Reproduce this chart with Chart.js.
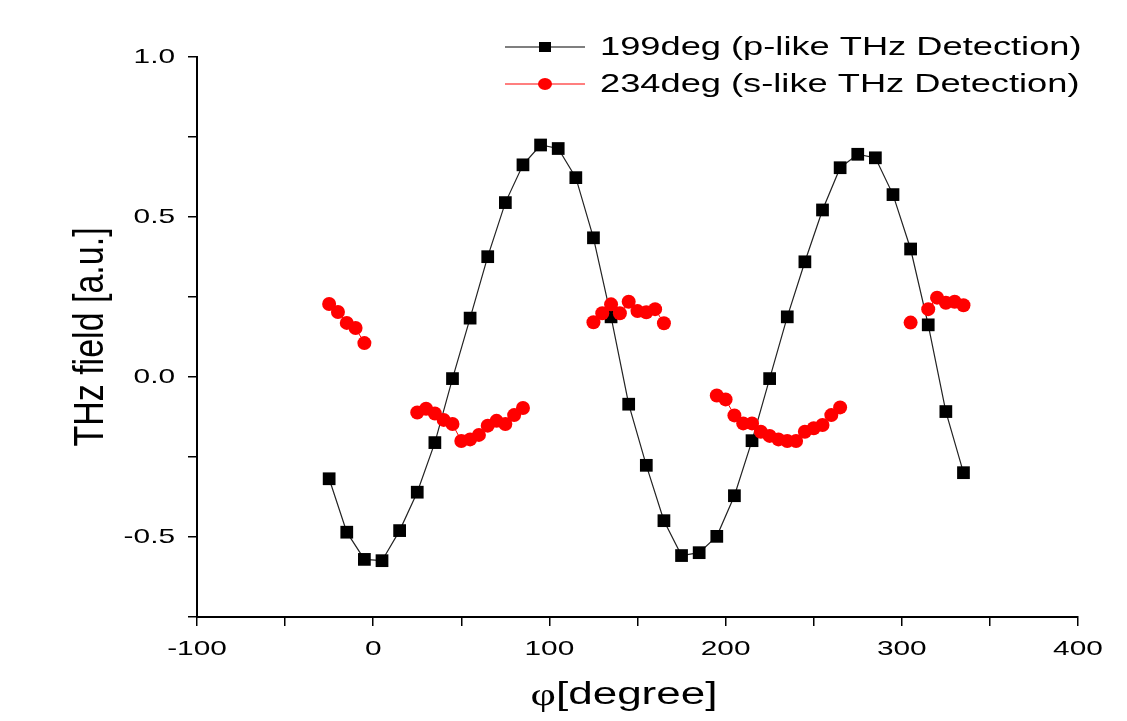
<!DOCTYPE html>
<html>
<head>
<meta charset="utf-8">
<script src="https://cdn.jsdelivr.net/npm/chart.js@4"></script>
<style>
  html, body { margin: 0; padding: 0; background: #fff; }
  #wrap { width: 1127px; height: 721px; }
</style>
</head>
<body>
<div id="wrap"><canvas id="chart"></canvas></div>
<script>
// p-like detection (199deg), every 10 degrees
const pAngles = [-25, -15, -5, 5, 15, 25, 35, 45, 55, 65, 75, 85, 95, 105, 115, 125, 135, 145, 155,
    165, 175, 185, 195, 205, 215, 225, 235, 245, 255, 265, 275, 285, 295, 305, 315, 325, 335];
const pField = [-0.318, -0.485, -0.57, -0.574, -0.48, -0.36, -0.205, -0.005, 0.184, 0.376, 0.545,
    0.663, 0.725, 0.714, 0.623, 0.435, 0.188, -0.085, -0.276, -0.449, -0.558, -0.549, -0.498,
    -0.371, -0.199, -0.005, 0.188, 0.36, 0.522, 0.654, 0.696, 0.685, 0.57, 0.40, 0.163, -0.108, -0.299];

// s-like detection (234deg), every 5 degrees, with gaps (null)
const sAngles = [-25, -20, -15, -10, -5, 0,
    25, 30, 35, 40, 45, 50, 55, 60, 65, 70, 75, 80, 85, 90,
    125, 130, 135, 140, 145, 150, 155, 160, 165, 170,
    195, 200, 205, 210, 215, 220, 225, 230, 235, 240, 245, 250, 255, 260, 265, 270,
    305, 310, 315, 320, 325, 330, 335];
const sField = [0.228, 0.203, 0.169, 0.153, 0.106, null,
    -0.111, -0.099, -0.114, -0.134, -0.147, -0.2, -0.195, -0.181, -0.152, -0.137, -0.147, -0.119, -0.097, null,
    0.171, 0.199, 0.227, 0.199, 0.235, 0.206, 0.202, 0.212, 0.168, null,
    -0.058, -0.07, -0.12, -0.145, -0.145, -0.171, -0.184, -0.195, -0.2, -0.2, -0.171, -0.16, -0.15, -0.119, -0.095, null,
    0.17, null, 0.212, 0.248, 0.232, 0.235, 0.224];

const xTickLabels = [-100, 0, 100, 200, 300, 400];
const yTickLabels = [-0.5, 0.0, 0.5, 1.0];

const seriesNames = ['199deg (p-like THz Detection)', '234deg (s-like THz Detection)'];
const xTitleSymbol = 'φ';
const xTitle = '[degree]';
const yTitle = 'THz field [a.u.]';

const FONT = '"Liberation Sans", Arial, sans-serif';
const SERIF = '"Liberation Serif", "Times New Roman", serif';
// the original picture is stretched sideways, text too
const STRETCH = 1.42;

function toPoints(xs, ys) {
    return xs.map((x, i) => ({ x: x, y: ys[i] }));
}

function wideText(ctx, text, x, y, align, font, sx) {
    ctx.save();
    ctx.translate(x, y);
    ctx.scale(sx, 1);
    ctx.font = font;
    ctx.textAlign = align;
    ctx.textBaseline = 'middle';
    ctx.fillText(text, 0, 0);
    ctx.restore();
}

// tick labels, axis titles and legend, drawn with the same stretch as the original
const textPlugin = {
    id: 'originText',
    afterDraw(chart) {
        const ctx = chart.ctx;
        const xs = chart.scales.x;
        const ys = chart.scales.y;
        ctx.save();
        ctx.fillStyle = '#000';

        xTickLabels.forEach(v => {
            wideText(ctx, String(v), xs.getPixelForValue(v), 649, 'center', '21px ' + FONT, STRETCH);
        });
        yTickLabels.forEach(v => {
            wideText(ctx, v.toFixed(1), 175, ys.getPixelForValue(v), 'right', '21px ' + FONT, STRETCH);
        });

        // x title: serif phi followed by the rest
        ctx.font = '31px ' + SERIF;
        const wPhi = ctx.measureText(xTitleSymbol).width * STRETCH;
        ctx.font = '31px ' + FONT;
        const wRest = ctx.measureText(xTitle).width * STRETCH;
        const x0 = 624 - (wPhi + wRest) / 2;
        wideText(ctx, xTitleSymbol, x0, 697, 'left', '31px ' + SERIF, STRETCH);
        wideText(ctx, xTitle, x0 + wPhi, 695, 'left', '31px ' + FONT, STRETCH);

        ctx.save();
        ctx.translate(91, (ys.top + ys.bottom) / 2);
        ctx.rotate(-Math.PI / 2);
        ctx.scale(1, 1.25);
        ctx.font = '34px ' + FONT;
        ctx.textAlign = 'center';
        ctx.textBaseline = 'middle';
        ctx.fillText(yTitle, 0, 0);
        ctx.restore();

        const rows = [
            { y: 47, color: '#000', style: 'rect', text: seriesNames[0] },
            { y: 84, color: '#f00', style: 'circle', text: seriesNames[1] }
        ];
        rows.forEach(r => {
            ctx.strokeStyle = r.color;
            ctx.lineWidth = 1.2;
            ctx.beginPath();
            ctx.moveTo(505, r.y);
            ctx.lineTo(585, r.y);
            ctx.stroke();
            ctx.fillStyle = r.color;
            if (r.style === 'rect') {
                ctx.fillRect(539, r.y - 5, 12, 10);
            } else {
                ctx.beginPath();
                ctx.ellipse(545, r.y, 7, 6, 0, 0, Math.PI * 2);
                ctx.fill();
            }
            ctx.fillStyle = '#000';
            wideText(ctx, r.text, 600, r.y + 1, 'left', '25px ' + FONT, 1.45);
        });
        ctx.restore();
    }
};

const config = {
    type: 'scatter',
    data: {
        datasets: [
            {
                label: seriesNames[0],
                data: toPoints(pAngles, pField),
                showLine: true,
                borderColor: '#222',
                backgroundColor: '#000',
                borderWidth: 1.2,
                pointStyle: 'rect',
                pointRadius: 9,
                pointBorderWidth: 0,
                order: 2
            },
            {
                label: seriesNames[1],
                data: toPoints(sAngles, sField),
                showLine: true,
                spanGaps: false,
                borderColor: '#f00',
                backgroundColor: '#f00',
                borderWidth: 1,
                pointStyle: 'circle',
                pointRadius: 7,
                pointBorderWidth: 0,
                order: 1
            }
        ]
    },
    options: {
        responsive: true,
        maintainAspectRatio: false,
        animation: false,
        layout: { padding: { top: 57, right: 49, left: 0, bottom: 0 } },
        plugins: {
            legend: { display: false },
            tooltip: { enabled: false }
        },
        scales: {
            x: {
                type: 'linear',
                min: -100,
                max: 400,
                border: { display: true, color: '#000', width: 2 },
                grid: { drawOnChartArea: false, drawTicks: true, tickLength: 9, color: '#000', lineWidth: 1.5 },
                ticks: { stepSize: 50, autoSkip: false, display: false },
                afterFit: s => { s.height = 104; }
            },
            y: {
                type: 'linear',
                min: -0.75,
                max: 1.0,
                border: { display: true, color: '#000', width: 2 },
                grid: { drawOnChartArea: false, drawTicks: true, tickLength: 9, color: '#000', lineWidth: 1.5 },
                ticks: { stepSize: 0.25, autoSkip: false, display: false },
                afterFit: s => { s.width = 197; }
            }
        }
    },
    plugins: [textPlugin]
};

window.onload = () => {
    new Chart(document.getElementById('chart'), config);
};
</script>
</body>
</html>
